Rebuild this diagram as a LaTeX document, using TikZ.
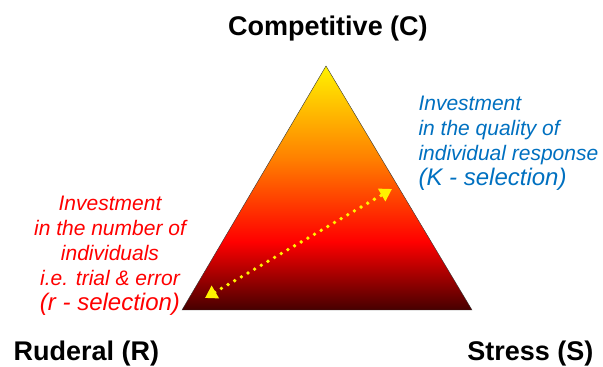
\documentclass[tikz,border=0pt]{standalone}
\usepackage{fontspec}
\setmainfont{Liberation Sans}
\usetikzlibrary{positioning,calc,arrows.meta}

\definecolor{kblue}{RGB}{0,112,192}
\definecolor{darkbase}{RGB}{70,0,0}
\pgfdeclareverticalshading{csr}{100bp}{color(0bp)=(darkbase); color(25bp)=(darkbase); color(39bp)=(red); color(56bp)=(orange); color(75bp)=(yellow!90!orange); color(100bp)=(yellow!90!orange)}

\begin{document}
\begin{tikzpicture}[x=1pt,y=1pt,
    corner/.style={font=\bfseries\fontsize{27}{30}\selectfont},
    rtext/.style={text=red,font=\itshape\fontsize{21}{25}\selectfont,align=center},
    ktext/.style={text=kblue,font=\itshape\fontsize{21}{25}\selectfont,align=left},
    strat/.style={line width=3.8pt,yellow,dash pattern=on 0pt off 7.7pt,line cap=round,
        {Triangle[length=12pt,width=14pt,line cap=butt]}-{Triangle[length=12pt,width=14pt,line cap=butt]}}]
    \useasboundingbox (0,0) rectangle (603,367);

    \coordinate (c) at (326,301);
    \coordinate (r) at (182,57);
    \coordinate (s) at (472,57);

    \shade[shading=csr] (r) -- (c) -- (s) -- cycle;
    \draw[thin,black!80] (r) -- (c) -- (s) -- cycle;

    \coordinate (lo) at (205,69);
    \coordinate (hi) at (392,178);
    \draw[strat] (lo) -- (hi);

    \node[corner] (cl) at (328,338) {Competitive (C)};
    \node[corner,anchor=west] (rl) at (10,13) {Ruderal (R)};
    \node[corner,anchor=east] (sl) at (597,13) {Stress (S)};

    \node[rtext,anchor=north] (rsel) at (110,174) {Investment\\in the number of\\individuals\\i.e. trial \& error\\{\fontsize{24}{27}\selectfont(r - selection)}};
    \node[ktext,anchor=north west] (ksel) at (415,274) {Investment\\in the quality of\\individual response\\{\fontsize{24}{31}\selectfont(K - selection)}};
\end{tikzpicture}
\end{document}
